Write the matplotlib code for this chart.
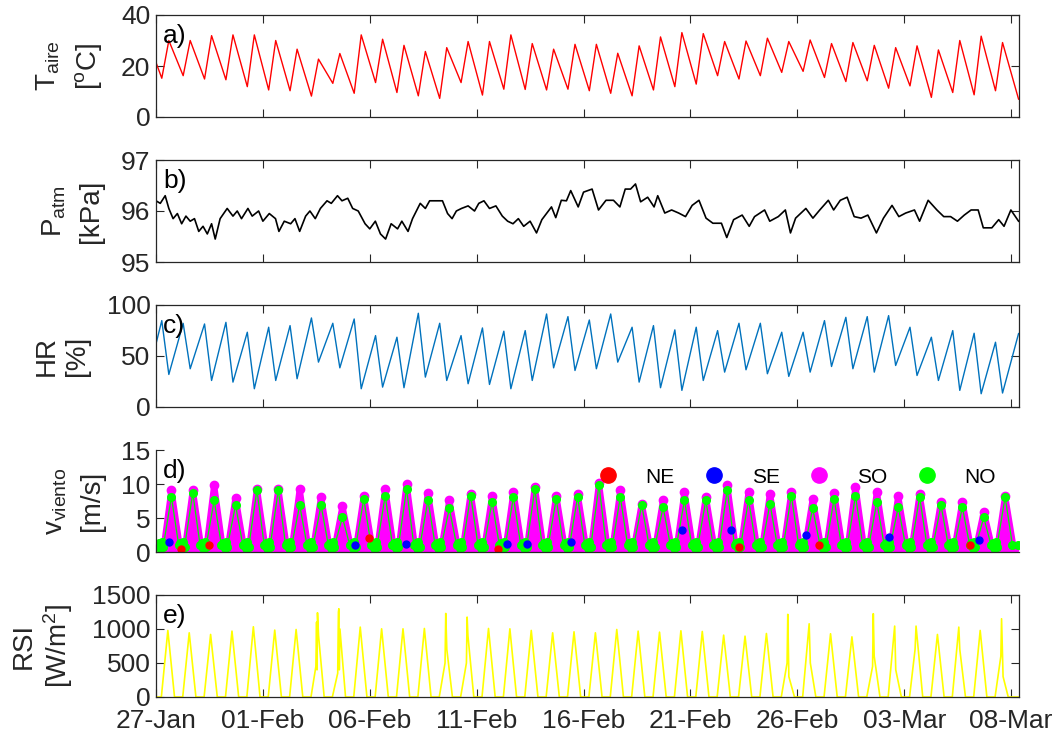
import numpy as np
import pandas as pd
import matplotlib
matplotlib.use('Agg')
import matplotlib.pyplot as plt
import matplotlib.dates as mdates
from matplotlib.lines import Line2D

plt.rcParams['font.family'] = ['Liberation Sans', 'DejaVu Sans']
plt.rcParams['mathtext.fontset'] = 'custom'
plt.rcParams['mathtext.rm'] = 'Liberation Sans'
plt.rcParams['mathtext.it'] = 'Liberation Sans:italic'

START = pd.Timestamp('2017-01-27')
END_DAY = 40.37

# ---- a) air temperature: daily min (morning) and max (afternoon), degC
t_start, t_end = 21.4, 7.0
t_min = [15.2, 16.2, 14.9, 14.6, 11.9, 10.6, 10.3, 8.2, 13.2, 9.3,
         13.5, 9.6, 8.3, 7.3, 13.5, 8.6, 10.9, 10.8, 10.6, 10.9,
         10.3, 9.3, 8.3, 10.6, 11.9, 12.9, 16.2, 14.9, 16.2, 17.5,
         17.9, 15.5, 13.9, 14.2, 11.3, 12.2, 7.7, 9.6, 8.7, 10.3]
t_max = [30.0, 30.0, 31.9, 32.2, 32.2, 30.0, 26.6, 22.7, 24.9, 32.2,
         30.5, 28.1, 25.7, 27.2, 29.6, 29.6, 32.2, 28.8, 26.6, 28.5,
         28.5, 25.0, 27.9, 31.4, 33.1, 32.7, 29.6, 29.8, 30.9, 29.6,
         30.2, 28.8, 29.2, 28.1, 27.2, 27.9, 26.3, 30.0, 31.7, 29.2]
t_min_hour, t_max_hour = 6.5, 14.4

# ---- b) atmospheric pressure, kPa (day since 27-Jan, value)
p_day = [0.00, 0.20, 0.43, 0.60, 0.80, 1.00, 1.20, 1.40, 1.60, 1.80,
         2.00, 2.20, 2.40, 2.60, 2.77, 3.00, 3.33, 3.60, 3.80, 4.00,
         4.30, 4.50, 4.80, 5.00, 5.30, 5.59, 5.75, 6.00, 6.30, 6.50,
         6.72, 7.00, 7.20, 7.45, 7.69, 8.00, 8.20, 8.49, 8.70, 8.97,
         9.20, 9.46, 9.78, 10.00, 10.26, 10.50, 10.74, 11.00, 11.30, 11.50,
         11.79, 12.00, 12.36, 12.60, 12.80, 13.10, 13.40, 13.64, 13.85, 14.05,
         14.29, 14.60, 14.90, 15.10, 15.34, 15.60, 15.90, 16.20, 16.45, 16.70,
         16.95, 17.20, 17.50, 17.80, 18.05, 18.50, 18.70, 18.96, 19.20, 19.40,
         19.75, 20.00, 20.40, 20.70, 21.05, 21.40, 21.70, 21.95, 22.20, 22.43,
         22.67, 23.00, 23.30, 23.47, 23.80, 24.12, 24.45, 24.77, 25.08, 25.40,
         25.73, 26.05, 26.45, 26.70, 27.02, 27.42, 27.75, 28.00, 28.47, 28.71,
         29.11, 29.44, 29.68, 29.92, 30.40, 30.73, 31.05, 31.45, 31.70, 32.01,
         32.33, 32.66, 32.98, 33.30, 33.70, 34.03, 34.43, 34.75, 35.07, 35.48,
         35.72, 36.12, 36.53, 36.85, 37.17, 37.49, 37.81, 38.13, 38.46, 38.70,
         39.10, 39.42, 39.67, 39.99, 40.35]
p_val = [96.20, 96.15, 96.30, 96.05, 95.85, 95.95, 95.75, 95.90, 95.80, 95.85,
         95.60, 95.70, 95.55, 95.75, 95.45, 95.85, 96.05, 95.90, 96.00, 95.85,
         96.05, 95.90, 96.00, 95.80, 95.95, 95.85, 95.60, 95.80, 95.75, 95.85,
         95.60, 95.90, 96.00, 95.85, 96.05, 96.20, 96.15, 96.30, 96.20, 96.25,
         96.05, 96.00, 95.75, 95.65, 95.80, 95.55, 95.45, 95.75, 95.65, 95.80,
         95.60, 95.85, 96.15, 96.05, 96.20, 96.20, 96.20, 95.95, 95.85, 96.00,
         96.05, 96.10, 96.00, 96.15, 96.20, 96.05, 96.10, 95.90, 95.80, 95.75,
         95.85, 95.70, 95.80, 95.57, 95.83, 96.08, 95.87, 96.21, 96.20, 96.40,
         96.08, 96.37, 96.43, 96.02, 96.21, 96.21, 96.08, 96.43, 96.43, 96.53,
         96.18, 96.27, 96.08, 96.30, 95.96, 96.02, 95.96, 95.89, 96.11, 96.21,
         95.86, 95.76, 95.76, 95.48, 95.83, 95.92, 95.70, 95.89, 96.02, 95.80,
         95.89, 96.02, 95.57, 95.86, 96.05, 95.86, 96.02, 96.21, 96.02, 96.21,
         96.27, 95.89, 95.86, 95.92, 95.57, 95.86, 96.11, 95.89, 95.96, 96.02,
         95.80, 96.21, 96.02, 95.89, 95.89, 95.80, 95.92, 96.02, 96.02, 95.67,
         95.67, 95.83, 95.70, 96.02, 95.80]

# ---- c) relative humidity, %: morning max and afternoon min
hr_start, hr_end = 61.9, 72.0
hr_max = [84.7, 82.0, 81.4, 83.0, 73.3, 78.2, 79.8, 87.3, 82.1, 86.3,
          70.0, 68.4, 91.9, 82.1, 70.0, 77.5, 74.3, 74.9, 91.2, 88.6,
          85.3, 91.2, 78.2, 79.8, 75.6, 78.2, 74.9, 82.1, 82.1, 73.3,
          73.3, 84.7, 87.9, 88.6, 89.6, 78.2, 68.4, 74.9, 72.3, 63.5]
hr_min = [31.9, 37.5, 26.0, 24.4, 17.9, 26.0, 27.7, 44.0, 38.4, 17.9,
          19.5, 18.9, 29.3, 26.0, 22.8, 22.1, 17.9, 26.0, 38.4, 35.8,
          37.5, 44.0, 24.4, 18.9, 16.3, 26.0, 34.2, 36.5, 32.6, 30.0,
          34.2, 39.7, 37.5, 34.2, 40.7, 30.9, 26.0, 16.3, 13.0, 13.7]
hr_max_hour, hr_min_hour = 6.5, 14.4

# ---- d) wind speed, m/s, by direction
so_peak = [9.1, 9.1, 9.8, 8.0, 9.3, 9.3, 9.2, 8.1, 6.7, 8.3,
           9.3, 10.0, 8.7, 7.6, 8.6, 8.2, 8.8, 9.6, 8.3, 8.6,
           10.1, 9.1, 7.1, 7.7, 8.8, 8.1, 9.8, 8.8, 8.6, 8.8,
           7.8, 8.7, 9.6, 8.8, 8.2, 8.5, 7.4, 7.4, 5.9, 8.2]
no_peak = [8.1, 8.7, 7.6, 6.9, 9.1, 9.1, 6.9, 6.9, 5.1, 7.8,
           8.3, 9.3, 7.6, 6.4, 8.3, 7.4, 8.1, 9.3, 7.8, 8.1,
           9.8, 8.1, 6.9, 6.6, 7.6, 7.6, 9.1, 7.6, 7.1, 8.3,
           6.4, 7.8, 8.3, 7.4, 6.6, 8.1, 6.9, 6.6, 5.1, 8.1]
so_hours = [8.5, 17.3, 27.0]
so_calm = 0.5
night_hours = [3.5, 5.0, 6.5, 8.0]
night_speed = [1.3, 0.6, 1.4, 0.7]
no_fall = (25.5, 1.0)
ne_day = [1.16, 2.50, 9.97, 16.0, 27.26, 31.0, 38.1]
ne_speed = [0.5, 1.0, 2.0, 0.5, 0.8, 1.0, 1.0]
se_day = [0.60, 9.30, 11.7, 16.4, 17.35, 19.4, 24.6, 26.9, 30.4, 34.3, 38.5]
se_speed = [1.5, 1.0, 1.2, 1.2, 1.2, 1.5, 3.3, 3.2, 2.5, 2.2, 1.7]

# ---- e) solar radiation, W/m2
rsi_peak = [979, 944, 920, 969, 1033, 984, 993, 1239, 1298, 1028,
            1003, 1003, 1008, 1229, 1175, 1008, 1003, 979, 944, 959,
            944, 993, 969, 954, 974, 964, 910, 895, 934, 1215,
            1077, 930, 885, 1225, 1043, 1043, 920, 1028, 979, 1151]
sun_hours = [6.0, 13.3, 20.8]
cloud_day = [7, 7, 7, 7, 8, 8, 8, 8, 13, 13, 14, 14, 29, 29, 30, 33, 33, 34, 35, 37, 39, 39]
cloud_hour = [11.5, 12.3, 12.8, 14.5, 12.0, 12.8, 13.8, 14.5, 12.5, 14.5, 12.5, 14.2,
              12.5, 14.5, 14.6, 12.5, 14.3, 14.5, 12.2, 14.4, 12.5, 15.0]
cloud_val = [450, 1100, 400, 900, 350, 1250, 400, 1000, 500, 700, 500, 900,
             500, 300, 500, 450, 600, 400, 700, 700, 600, 300]


def to_time(days):
    return START + pd.to_timedelta(np.asarray(days, dtype=float), unit='D')


ndays = len(t_min)
k = np.arange(ndays)

# temperature sequence
td = [0.0]; tv = [t_start]
for i in k:
    td += [i + t_min_hour / 24, i + t_max_hour / 24]
    tv += [t_min[i], t_max[i]]
td.append(40.35); tv.append(t_end)

# humidity sequence
hd = [0.0]; hv = [hr_start]
for i in k:
    hd += [i + hr_max_hour / 24, i + hr_min_hour / 24]
    hv += [hr_max[i], hr_min[i]]
hd.append(40.35); hv.append(hr_end)

# wind sequences
sd, sv, nd, nv = [], [], [], []
for i in k:
    sd += [i + h / 24 for h in so_hours]
    sv += [so_calm, so_peak[i], so_calm]
    nd += [i + h / 24 for h in night_hours] + [i + so_hours[1] / 24, i + no_fall[0] / 24]
    nv += list(night_speed) + [no_peak[i], no_fall[1]]
nd.append(40.3); nv.append(1.0)

# radiation sequence
rs = []
for i in k:
    rs += [(i + sun_hours[0] / 24, 0.0), (i + sun_hours[1] / 24, rsi_peak[i]),
           (i + sun_hours[2] / 24, 0.0)]
for d, h, v in zip(cloud_day, cloud_hour, cloud_val):
    rs.append((d + h / 24, v))
rs = [(0.0, 0.0)] + sorted(rs) + [(END_DAY, 0.0)]
rd = [r[0] for r in rs]; rv = [r[1] for r in rs]

AX_COL = '#262626'
FS = 19
LFS = 20

fig = plt.figure(figsize=(10.6, 7.42), dpi=100)
left, width, h = 156 / 1060, 863 / 1060, 102 / 742
tops = [15, 160, 305, 450, 595]
axes = [fig.add_axes([left, 1 - (t + 102) / 742, width, h]) for t in tops]

ticks = pd.date_range(START, periods=9, freq='5D')

for i, ax in enumerate(axes):
    ax.set_xlim(START, to_time([END_DAY])[0])
    ax.set_xticks(ticks)
    ax.xaxis.set_major_formatter(mdates.DateFormatter('%d-%b'))
    boxed = i != 3
    ax.tick_params(direction='in', length=6, width=0.8, colors=AX_COL,
                   labelsize=FS, top=boxed, right=boxed, pad=4)
    for s in ax.spines.values():
        s.set_color(AX_COL)
        s.set_linewidth(0.9)
    if not boxed:
        ax.spines['top'].set_visible(False)
        ax.spines['right'].set_visible(False)
    if i < 4:
        ax.tick_params(labelbottom=False)
axes[4].tick_params(axis='x', pad=9)

ylab = dict(fontsize=LFS, color=AX_COL, labelpad=12)

ax = axes[0]
ax.plot(to_time(td), tv, color='#FF0000', lw=1.0)
ax.set_ylim(0, 40); ax.set_yticks([0, 20, 40])
ax.set_ylabel('T$_{\\mathrm{aire}}$\n[$^{\\mathrm{o}}$C]', linespacing=1.5, **ylab)

ax = axes[1]
ax.plot(to_time(p_day), p_val, color='black', lw=1.2)
ax.set_ylim(95, 97); ax.set_yticks([95, 96, 97])
ax.set_ylabel('P$_{\\mathrm{atm}}$\n[kPa]', linespacing=1.5, **ylab)

ax = axes[2]
ax.plot(to_time(hd), hv, color='#0072BD', lw=1.0)
ax.set_ylim(0, 100); ax.set_yticks([0, 50, 100])
ax.set_ylabel('HR\n[%]', **ylab)

ax = axes[3]
ax.fill_between(to_time(sd), sv, color='#FF00FF', lw=0)
ax.plot(to_time(sd), sv, color='#FF00FF', lw=4.5, marker='o', ms=6,
        solid_joinstyle='round')
ax.plot(to_time(nd), nv, color='#00FF00', lw=0.9, marker='o', ms=5.5)
ax.plot(to_time(ne_day), ne_speed, 'o', color='#FF0000', ms=5)
ax.plot(to_time(se_day), se_speed, 'o', color='#0000FF', ms=5)
ax.set_ylim(0, 15); ax.set_yticks([0, 5, 10, 15])
ax.set_ylabel('v$_{\\mathrm{viento}}$\n[m/s]', linespacing=1.5, **ylab)
handles = [Line2D([], [], ls='none', marker='o', ms=11, color=c)
           for c in ['#FF0000', '#0000FF', '#FF00FF', '#00FF00']]
ax.legend(handles, ['NE', 'SE', 'SO', 'NO'], ncol=4, frameon=False, fontsize=15,
          loc='center right', bbox_to_anchor=(0.985, 0.735), handlelength=0.8,
          handletextpad=1.4, columnspacing=1.5, borderpad=0)

ax = axes[4]
ax.plot(to_time(rd), rv, color='#FFFF00', lw=1.2)
ax.set_ylim(0, 1500); ax.set_yticks([0, 500, 1000, 1500])
ax.set_ylabel('RSI\n[W/m$^{\\mathrm{2}}$]', **ylab)

for ax, lab in zip(axes, ['a)', 'b)', 'c)', 'd)', 'e)']):
    ax.text(0.008, 0.91, lab, transform=ax.transAxes, fontsize=FS, va='top', ha='left')

fig.savefig('out.png', dpi=100)
